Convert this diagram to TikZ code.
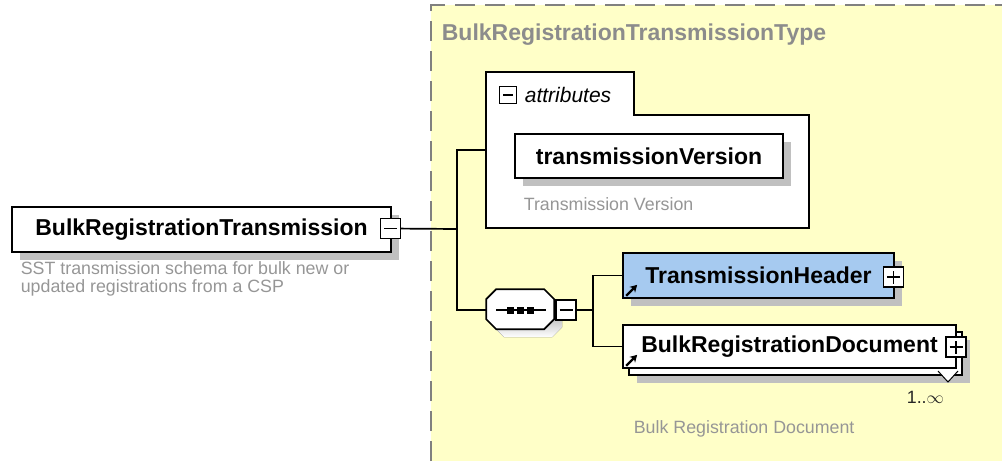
\documentclass[tikz,border=0pt]{standalone}
\usepackage{fontspec}
\setmainfont{Liberation Sans}
\usetikzlibrary{positioning,shadows,arrows.meta}
\definecolor{typebg}{RGB}{255,255,200}
\definecolor{hdrblue}{RGB}{166,202,240}
\definecolor{shade}{RGB}{192,192,192}
\definecolor{notegray}{RGB}{150,150,150}
\definecolor{titlegray}{RGB}{140,140,140}
\definecolor{framegray}{RGB}{128,128,128}

\begin{document}
\begin{tikzpicture}
    [x=1pt,y=-1pt,line width=1.7pt,
     every node/.style={inner sep=0pt, font=\fontsize{23}{26}\selectfont\bfseries},
     elem/.style={draw, fill=white, rectangle, minimum height=44pt,
       drop shadow={shadow xshift=8pt, shadow yshift=-8pt, opacity=1, fill=shade}},
     note/.style={font=\fontsize{17.8}{18}\selectfont, text=notegray, anchor=west, align=left},
     btn/.style={draw, fill=white, minimum size=20pt, line width=1.3pt},
     minus/.style={btn, path picture={\draw[line width=1.8pt] ([xshift=3.5pt]path picture bounding box.west) -- ([xshift=-3.5pt]path picture bounding box.east);}},
     plus/.style={btn, path picture={\draw[line width=1.8pt] ([xshift=3.5pt]path picture bounding box.west) -- ([xshift=-3.5pt]path picture bounding box.east)
       ([yshift=3.5pt]path picture bounding box.south) -- ([yshift=-3.5pt]path picture bounding box.north);}}]
  \useasboundingbox (0,0) rectangle (1002,461);
  \fill[typebg] (431,5) rectangle (1002,461);
  \draw[framegray, dash pattern=on 20pt off 10pt] (431,461) -- (431,5) -- (1002,5);
  \node[anchor=west, text=titlegray] (typetitle) at (441,35) {BulkRegistrationTransmissionType};

  \node[elem, minimum width=379pt, minimum height=45pt] (root) at (201.5,229.5) {BulkRegistrationTransmission\hspace{8pt}};
  \node[minus] (rootbtn) at (390.5,228.5) {};
  \node[note] (rootnote) at (20,279) {SST transmission schema for bulk new or\\updated registrations from a CSP};

  \node[minimum width=321pt, minimum height=154pt] (attr) at (647.5,150) {};
  \draw[fill=white] (attr.north west) -- ++(148,0) -- ++(0,43) -| (attr.south east) -- (attr.south west) -- cycle;
  \node[minus, minimum size=17pt, line width=1.2pt] (attrbtn) at (508,95) {};
  \node[anchor=west, font=\fontsize{21}{21}\selectfont\itshape] (attrlbl) at (524,95) {attributes};
  \node[elem, minimum width=268pt] (version) at (649,156) {transmissionVersion};
  \node[note] (versionnote) at (523,204) {Transmission Version};

  \node[minimum width=68pt, minimum height=40pt] (seq) at (521,310) {};
  \fill[shade] ([xshift=8pt,yshift=-8pt]seq.north west) ++(10,0) -- ++(48,0) -- ++(10,10) -- ++(0,20) -- ++(-10,10) -- ++(-48,0) -- ++(-10,-10) -- ++(0,-20) -- cycle;
  \draw[fill=white] (seq.north west) ++(10,0) -- ++(48,0) -- ++(10,10) -- ++(0,20) -- ++(-10,10) -- ++(-48,0) -- ++(-10,-10) -- ++(0,-20) -- cycle;
  \draw ([xshift=10pt]seq.west) -- ([xshift=-10pt]seq.east);
  \foreach \dx in {-11,-1,9}
    \fill ([xshift=\dx pt]seq.center) ++(-3.5,-3.5) rectangle ++(7,7);
  \node[minus] (seqbtn) at (566,310) {};

  \node[elem, fill=hdrblue, minimum width=271pt, minimum height=45pt] (header) at (758.5,275.5) {TransmissionHeader\hspace{6pt}};
  \node[plus] (headerbtn) at (893.5,277) {};
  \node[elem, minimum width=333pt, minimum height=43pt] (docback) at (795.5,353.5) {};
  \node[draw, fill=white, minimum width=333pt, minimum height=43pt] (doc) at (789.5,346.5) {BulkRegistrationDocument\hspace{4pt}};
  \node[plus] (docbtn) at (956,347) {};
  \draw[fill=white, line width=1pt] (938,371) -- (948,382) -- (958,371);
  \node[note, text=black!85] (docmult) at (906,397) {1..$\infty$};
  \node[note] (docnote) at (633,429) {Bulk Registration Document};

  \foreach \n in {header, doc}
    \draw[-{Stealth[length=7pt,width=8pt]}, line width=2.4pt] ([xshift=4pt,yshift=3pt]\n.south west) -- ++(11,-11);

  \coordinate (fork) at (457,229);
  \coordinate (seqfork) at (593,310);
  \draw (rootbtn) -- (fork);
  \foreach \to in {attr, seq}
    \draw (fork) |- (\to.west);
  \draw (seqbtn) -- (seqfork);
  \foreach \to in {header, doc}
    \draw (seqfork) |- (\to.west);
\end{tikzpicture}
\end{document}
